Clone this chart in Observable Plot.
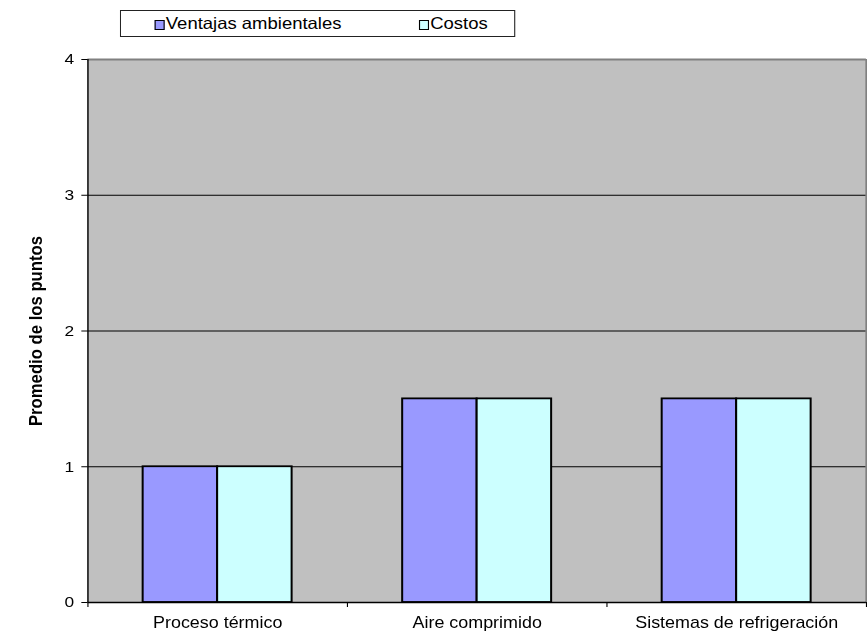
<!DOCTYPE html>
<html>
<head>
<meta charset="utf-8">
<script src="https://cdn.jsdelivr.net/npm/d3@7"></script>
<script src="https://cdn.jsdelivr.net/npm/@observablehq/plot@0.6"></script>
<style>
  html, body { margin: 0; padding: 0; background: #fff; overflow: hidden; }
  /* the whole figure is drawn at 774px wide and widened to the 867px page */
  #wrap {
    position: relative; width: 774px; height: 632px;
    transform: scaleX(1.1202); transform-origin: 0 0;
    font-family: "Liberation Sans", Arial, sans-serif;
  }
  #wrap svg { position: absolute; left: 0; top: 0; }
  #legend {
    position: absolute; left: 107px; top: 10px; width: 353px; height: 27px;
    box-sizing: border-box; border: 1px solid #222; background: #fff; z-index: 2;
  }
  .item { position: absolute; top: 4px; font-size: 16.5px; line-height: 16px; white-space: nowrap; color: #000; }
  .swatch { display: inline-block; width: 7px; height: 8px; border: 1.3px solid #000; margin-right: 1px; vertical-align: -1px; }
</style>
</head>
<body>
<div id="wrap">
  <div id="legend"></div>
</div>
<script>
// Categories, series and values
const categories = ["Proceso térmico", "Aire comprimido", "Sistemas de refrigeración"];
const seriesNames = ["Ventajas ambientales", "Costos"];
const ventajas = [1, 1.5, 1.5];
const costos = [1, 1.5, 1.5];
const yTicks = [0, 1, 2, 3, 4];
const seriesColors = ["#9999ff", "#ccffff"];

// Build one row per bar
const seriesValues = [ventajas, costos];
const rows = [];
categories.forEach((c, i) => {
  seriesNames.forEach((s, j) => {
    rows.push({category: c, index: i, series: s, slot: j, value: seriesValues[j][i]});
  });
});

// Grouped bars: each category occupies one unit of x; the pair fills the middle
const groupStart = 0.213;
const barWidth = 0.287;

const font = '"Liberation Sans", Arial, sans-serif';

const chart = Plot.plot({
  width: 774,
  height: 632,
  marginLeft: 78,
  marginRight: 1,
  marginTop: 59,
  marginBottom: 30,
  style: {fontFamily: font, fontSize: "15px", color: "#000", background: "transparent", overflow: "visible"},
  x: {domain: [0, categories.length], axis: null},
  y: {domain: [yTicks[0], yTicks[yTicks.length - 1]], axis: null},
  color: {domain: seriesNames, range: seriesColors},
  marks: [
    Plot.frame({fill: "#c0c0c0", stroke: "none"}),
    Plot.ruleY(yTicks.slice(1, -1), {stroke: "#000", strokeWidth: 1}),
    Plot.ruleY([yTicks[yTicks.length - 1]], {stroke: "#808080", strokeWidth: 2}),
    Plot.ruleX([categories.length], {stroke: "#808080", strokeWidth: 2}),
    Plot.rect(rows, {
      x1: d => d.index + groupStart + d.slot * barWidth,
      x2: d => d.index + groupStart + (d.slot + 1) * barWidth,
      y1: 0,
      y2: "value",
      fill: "series",
      stroke: "#000",
      strokeWidth: 1.8
    }),
    Plot.ruleX([0], {stroke: "#000", strokeWidth: 1.3}),
    Plot.ruleY([0], {stroke: "#000", strokeWidth: 1.3}),
    Plot.axisY({ticks: yTicks, tickSize: 5.4, tickPadding: 7, tickFormat: d => String(d), fontSize: 15.5, label: null}),
    Plot.axisX(d3.range(categories.length + 1), {tickSize: 5, tickFormat: () => "", label: null}),
    Plot.axisX(categories.map((c, i) => i + 0.5), {
      tickSize: 0, tickPadding: 14, fontSize: 16, label: null,
      tickFormat: d => categories[Math.floor(d)]
    }),
    Plot.text(["Promedio de los puntos"], {
      text: d => d, frameAnchor: "left", textAnchor: "middle", rotate: -90, dx: -46,
      fontWeight: "bold", fontSize: 16.7
    })
  ]
});
document.getElementById("wrap").appendChild(chart);

// Legend
const legend = document.getElementById("legend");
const itemLeft = [30, 266];
seriesNames.forEach((s, j) => {
  const item = document.createElement("div");
  item.className = "item";
  item.style.left = itemLeft[j] + "px";
  const sw = document.createElement("span");
  sw.className = "swatch";
  sw.style.background = seriesColors[j];
  item.appendChild(sw);
  item.appendChild(document.createTextNode(s));
  legend.appendChild(item);
});
</script>
</body>
</html>
